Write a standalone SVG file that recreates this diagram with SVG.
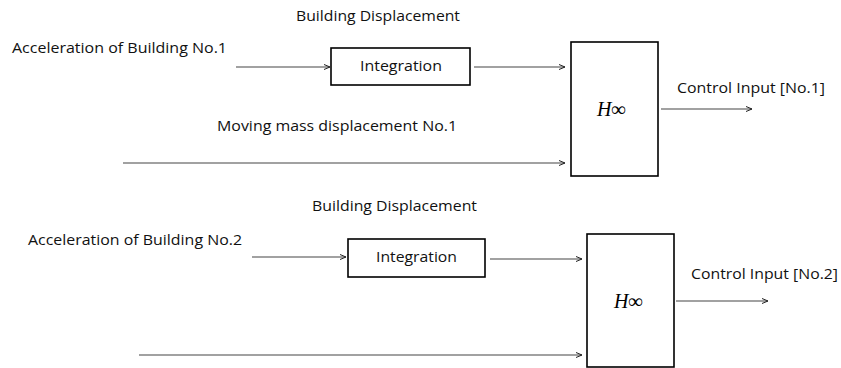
<svg xmlns="http://www.w3.org/2000/svg" width="841" height="368" viewBox="0 0 841 368">
<style>
text{font-family:"Open Sans","Noto Sans",sans-serif;font-size:14px;fill:#111}
.box{fill:#fff;stroke:#000;stroke-width:1.6}
.ln{stroke:#444;stroke-width:1.1;fill:none;marker-end:url(#ah)}
.h{font-family:"Liberation Serif",serif;font-style:italic;font-size:20px;fill:#000}
</style>
<defs>
<marker id="ah" markerWidth="8" markerHeight="8" refX="6" refY="3" orient="auto" markerUnits="userSpaceOnUse">
<path d="M0,0.5 L6,3 L0,5.5" fill="none" stroke="#222" stroke-width="1"/>
</marker>
</defs>
<rect width="841" height="368" fill="#fff"/>
<g id="labels">
<text x="296" y="21" textLength="164" lengthAdjust="spacingAndGlyphs">Building Displacement</text>
<text x="12" y="53" textLength="215" lengthAdjust="spacingAndGlyphs">Acceleration of Building No.1</text>
<text x="217" y="131" textLength="240" lengthAdjust="spacingAndGlyphs">Moving mass displacement No.1</text>
<text x="677" y="93" textLength="148" lengthAdjust="spacingAndGlyphs">Control Input [No.1]</text>
<text x="312" y="211" textLength="165" lengthAdjust="spacingAndGlyphs">Building Displacement</text>
<text x="28" y="245" textLength="214" lengthAdjust="spacingAndGlyphs">Acceleration of Building No.2</text>
<text x="691" y="279" textLength="147" lengthAdjust="spacingAndGlyphs">Control Input [No.2]</text>
</g>
<g id="integ1"><rect class="box" x="331" y="48" width="139" height="37"/><text x="360" y="71" textLength="82" lengthAdjust="spacingAndGlyphs">Integration</text></g>
<g id="hinf1"><rect class="box" x="571" y="42" width="87" height="134"/><text class="h" x="597" y="116">H∞</text></g>
<g id="integ2"><rect class="box" x="348" y="239" width="137" height="38"/><text x="376" y="262" textLength="81" lengthAdjust="spacingAndGlyphs">Integration</text></g>
<g id="hinf2"><rect class="box" x="587" y="234" width="87" height="133"/><text class="h" x="614" y="308">H∞</text></g>
<g id="connectors">
<line class="ln" x1="236" y1="67" x2="330" y2="67"/>
<line class="ln" x1="474" y1="67" x2="565" y2="67"/>
<line class="ln" x1="123" y1="163" x2="565" y2="163"/>
<line class="ln" x1="661" y1="109" x2="752" y2="109"/>
<line class="ln" x1="252" y1="257" x2="346" y2="257"/>
<line class="ln" x1="490" y1="259" x2="582" y2="259"/>
<line class="ln" x1="139" y1="355" x2="582" y2="355"/>
<line class="ln" x1="676" y1="301" x2="768" y2="301"/>
</g>
</svg>
